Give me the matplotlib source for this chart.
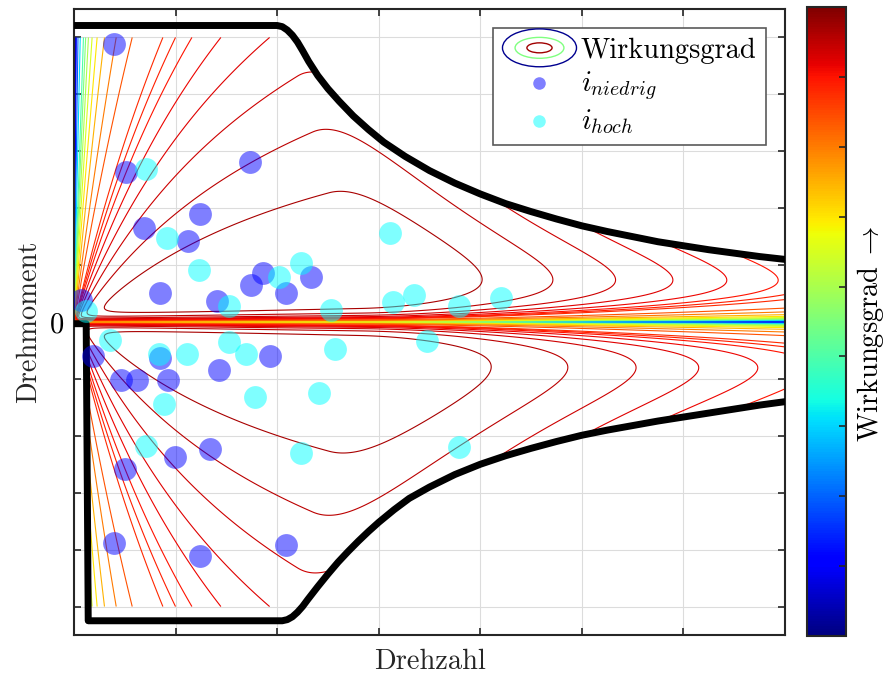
import numpy as np
import matplotlib
matplotlib.use('Agg')
import matplotlib.pyplot as plt
from matplotlib.cm import ScalarMappable
from matplotlib.colors import Normalize
from matplotlib.legend_handler import HandlerBase
from matplotlib.patches import Ellipse

plt.rcParams['font.family'] = 'serif'
plt.rcParams['font.serif'] = ['cmr10']
plt.rcParams['mathtext.fontset'] = 'cm'
plt.rcParams['axes.formatter.use_mathtext'] = True
plt.rcParams['font.size'] = 20.5

# operating points, low gear ratio (speed, torque)
n_niedrig = [0.39, 0.51, 1.73, 0.69, 1.24, 1.12, 0.85, 1.41, 1.74, 1.86, 2.09, 2.33, 0.07,
             0.19, 0.46, 0.62, 0.93, 1.43, 1.93, 0.50, 0.99, 1.34, 0.39, 1.24, 2.09, 0.85]
T_niedrig = [4.88, 2.63, 2.81, 1.65, 1.90, 1.42, 0.51, 0.37, 0.65, 0.86, 0.51, 0.79, 0.39,
             -0.60, -1.02, -1.02, -1.02, -0.84, -0.60, -2.58, -2.37, -2.23, -3.89, -4.12, -3.92, -0.63]

# operating points, high gear ratio
n_hoch = [0.71, 0.92, 1.23, 2.02, 2.23, 1.53, 2.53, 3.11, 3.14, 3.35, 3.79, 4.20, 0.12,
          0.35, 0.84, 1.11, 1.53, 1.69, 2.57, 3.48, 0.89, 1.78, 2.41, 0.71, 2.23, 3.79]
T_hoch = [2.69, 1.47, 0.91, 0.79, 1.04, 0.28, 0.21, 1.56, 0.35, 0.47, 0.28, 0.43, 0.19,
          -0.32, -0.56, -0.56, -0.35, -0.56, -0.47, -0.33, -1.44, -1.32, -1.24, -2.18, -2.30, -2.19]

# torque limit, motor side
n_motor_limit = [0.0, 2.0, 2.05, 2.1, 2.15, 2.2, 2.25, 2.31, 2.4, 2.5, 2.61, 2.75, 2.9, 3.05,
                 3.26, 3.5, 3.75, 4.0, 4.25, 4.5, 4.75, 5.0, 5.25, 5.5, 5.75, 6.0, 6.25, 6.5,
                 6.75, 7.0]
T_motor_limit = [5.21, 5.21, 5.19, 5.13, 5.04, 4.92, 4.77, 4.58, 4.33, 4.1, 3.88, 3.62, 3.38, 3.16,
                 2.91, 2.66, 2.44, 2.25, 2.08, 1.94, 1.81, 1.69, 1.59, 1.5, 1.41, 1.34, 1.27, 1.21,
                 1.15, 1.1]

# torque limit, generator side
n_gen_limit = [0.0, 0.12, 0.14, 2.05, 2.1, 2.15, 2.2, 2.25, 2.3, 2.4, 2.5, 2.6, 2.7, 2.8, 2.9,
               3.0, 3.15, 3.3, 3.5, 3.75, 4.0, 4.25, 4.5, 4.75, 5.0, 5.25, 5.5, 5.75, 6.0, 6.25,
               6.5, 6.75, 7.0]
T_gen_limit = [-0.03, -0.03, -5.25, -5.25, -5.23, -5.18, -5.1, -5.0, -4.88, -4.65, -4.43, -4.22,
               -4.03, -3.85, -3.68, -3.52, -3.3, -3.1, -2.9, -2.68, -2.5, -2.35, -2.22, -2.1,
               -1.99, -1.9, -1.82, -1.74, -1.67, -1.6, -1.53, -1.46, -1.4]

# loss model: copper a*T^2, speed dependent s(n), field weakening above n_b(T)
A0, A1 = 0.018, 0.0065
B, C = 0.004, 0.0012
E_MOT, E_GEN, F = 0.025, 0.02, 0.0119
NB0, NB1 = 2.85, 0.15

eta_levels = [0.03, 0.1, 0.15, 0.2, 0.3, 0.4, 0.5, 0.55, 0.6, 0.65, 0.7, 0.75, 0.8,
              0.84, 0.88, 0.89, 0.90, 0.9125, 0.9255, 0.939, 0.953, 0.967]
cbar_ticks = [0.2, 0.3, 0.4, 0.5, 0.6, 0.7, 0.8, 0.9]
y_ticks = [-5, -4, -3, -2, -1, 0, 1, 2, 3, 4, 5]
x_ticks = [1, 2, 3, 4, 5, 6]


class EllipseLegendHandle:
    pass


class HandlerEllipses(HandlerBase):
    def create_artists(self, legend, orig_handle, xdescent, ydescent,
                       width, height, fontsize, trans):
        cx = 0.5 * width - xdescent
        cy = 0.5 * height - ydescent
        artists = []
        for w, h, col in [(1.0, 1.9, '#00008f'), (0.66, 1.05, '#80ff80'), (0.34, 0.5, '#a00000')]:
            e = Ellipse((cx, cy), width * w, height * h, fill=False,
                        edgecolor=col, lw=1.0, transform=trans)
            artists.append(e)
        return artists


def efficiency_map():
    n = np.linspace(0, 7, 701)
    t = np.linspace(-5, 5, 1001)
    N, TT = np.meshgrid(n, t)
    T_abs = np.abs(TT)
    u = np.clip(N - (NB0 - NB1 * T_abs), 0, None)
    e_fw = np.where(TT >= 0, E_MOT, E_GEN)
    a = A0 + A1 * N + e_fw * u ** 2
    s = B * N + C * N ** 2 + F * u ** 2
    P = N * T_abs
    eta = P / (P + a * T_abs ** 2 + s + 1e-12)
    outside = (TT > np.interp(N, n_motor_limit, T_motor_limit)) | \
              (TT < np.interp(N, n_gen_limit, T_gen_limit))
    eta[outside] = np.nan
    return N, TT, eta


def main():
    fig = plt.figure(figsize=(8.88, 6.79), dpi=100)
    ax = fig.add_axes([74 / 888, 44 / 679, 711 / 888, 626 / 679])
    norm = Normalize(vmin=0.1, vmax=1.0)

    N, TT, eta = efficiency_map()
    ax.contour(N, TT, eta, levels=eta_levels, cmap='jet', norm=norm,
               linewidths=0.8, zorder=2)

    ax.plot(n_motor_limit, T_motor_limit, 'k', lw=5, zorder=3, solid_joinstyle='round')
    ax.plot(n_gen_limit, T_gen_limit, 'k', lw=5, zorder=3, solid_joinstyle='round')

    sc1 = ax.scatter(n_niedrig, T_niedrig, s=270, c='#0000ff', alpha=0.5, linewidths=0, zorder=4)
    sc2 = ax.scatter(n_hoch, T_hoch, s=270, c='#00ffff', alpha=0.5, linewidths=0, zorder=4)

    ax.set_xlim(0, 7)
    ax.set_ylim(-5.5, 5.5)
    ax.set_xticks(x_ticks)
    ax.set_xticklabels([])
    ax.set_yticks(y_ticks)
    ax.set_yticklabels(['0' if v == 0 else '' for v in y_ticks])
    ax.tick_params(direction='in', top=True, right=True, length=5, width=1.2,
                   color='#262626', pad=7)
    ax.grid(True, color='#dcdcdc', lw=0.8)
    ax.set_axisbelow(True)
    for sp in ax.spines.values():
        sp.set_color('#262626')
        sp.set_linewidth(1.5)
    ax.set_xlabel('Drehzahl', labelpad=3, color='#262626')
    ax.set_ylabel('Drehmoment', labelpad=6, color='#262626')

    leg = ax.legend([EllipseLegendHandle(), sc1, sc2],
                    ['Wirkungsgrad', r'$i_{niedrig}$', r'$i_{hoch}$'],
                    handler_map={EllipseLegendHandle: HandlerEllipses()},
                    loc='upper right', fancybox=False, edgecolor='#5a5a5a', framealpha=1,
                    handlelength=2.6, handletextpad=0.15, labelspacing=0.18,
                    borderpad=0.35, borderaxespad=0.65, markerscale=0.55)
    leg.get_frame().set_linewidth(1.2)

    cax = fig.add_axes([807 / 888, 43 / 679, 39 / 888, 629 / 679])
    cbar = fig.colorbar(ScalarMappable(norm=norm, cmap='jet'), cax=cax, ticks=cbar_ticks)
    cbar.ax.set_yticklabels([])
    cbar.ax.tick_params(direction='in', length=5, width=1.2, color='#262626')
    cbar.outline.set_linewidth(1.5)
    cbar.outline.set_edgecolor('#262626')
    cbar.set_label(r'Wirkungsgrad$\;\rightarrow$', labelpad=3)
    cbar.ax.yaxis.label.set_y(0.48)

    fig.savefig('out.png', dpi=100)


if __name__ == '__main__':
    main()
